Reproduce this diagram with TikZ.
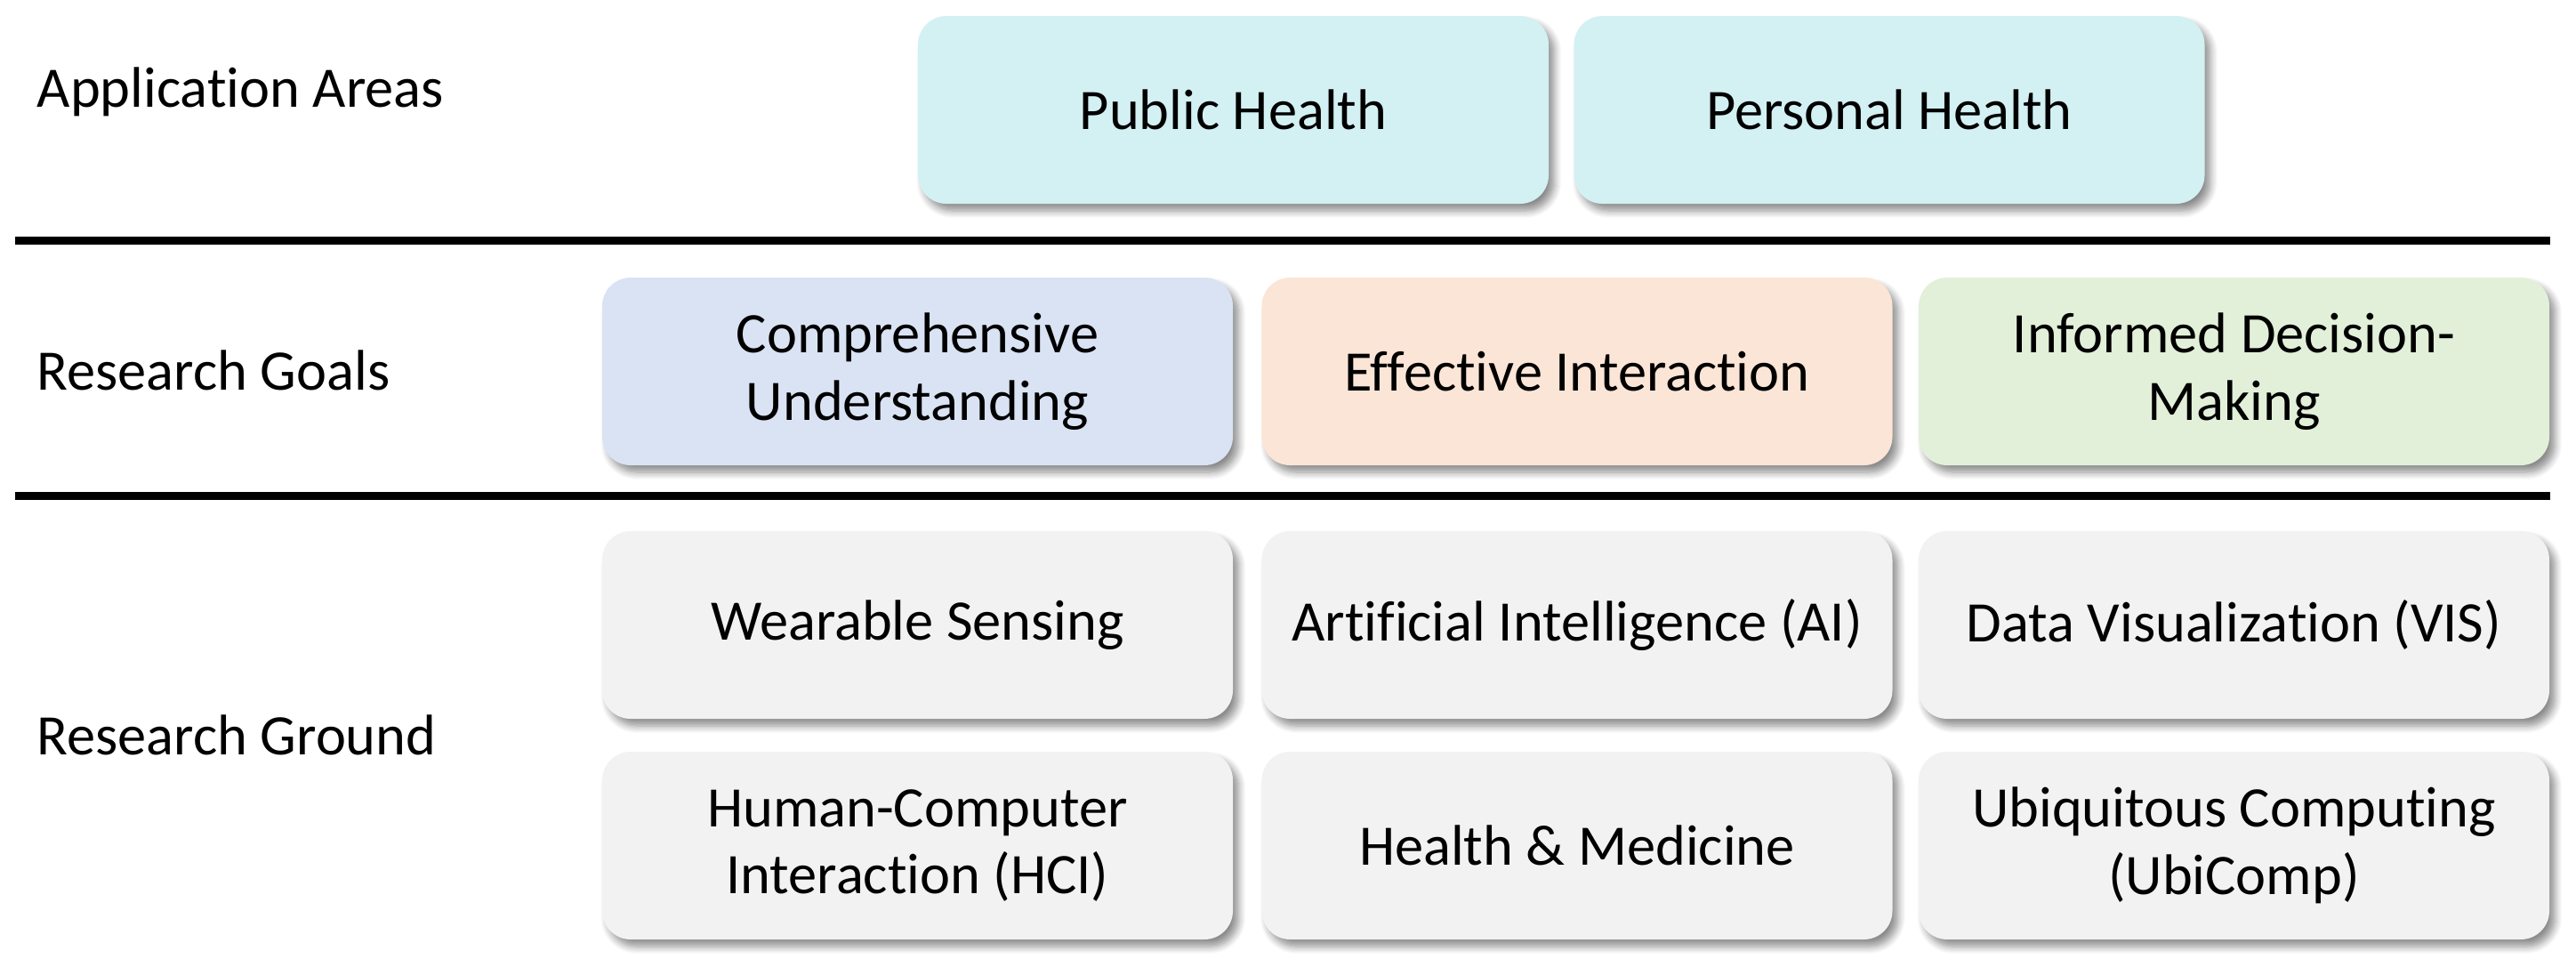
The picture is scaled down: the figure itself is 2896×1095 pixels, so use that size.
\documentclass[tikz,border=0pt]{standalone}
\usepackage{fontspec}
\setmainfont{Carlito}[Ligatures={NoCommon}]
\usetikzlibrary{shadows.blur}

\definecolor{areacyan}{HTML}{D3F0F3}
\definecolor{goalblue}{HTML}{DAE3F3}
\definecolor{goalorange}{HTML}{FBE5D6}
\definecolor{goalgreen}{HTML}{E2F0D9}
\definecolor{groundgray}{HTML}{F2F2F2}

\tikzset{
  box/.style={rounded corners=8pt, draw=none, inner sep=0pt,
    minimum width=177.25pt, minimum height=52.75pt,
    align=center, font=\fontsize{16.1}{18.9}\selectfont,
    blur shadow={shadow xshift=1.6pt, shadow yshift=-2pt,
      shadow blur radius=2pt, shadow blur steps=8, shadow opacity=45}},
  rowlabel/.style={anchor=west, inner sep=0pt, font=\fontsize{16.1}{18.9}\selectfont},
  divider/.style={line width=2.25pt, black}
}

\begin{document}
\begin{tikzpicture}[x=0.25pt, y=-0.25pt]
  \useasboundingbox (0,0) rectangle (2896,1095);

  % row labels
  \node[rowlabel] (lblareas)  at (41,103) {Application Areas};
  \node[rowlabel] (lblgoals)  at (41,416) {Research Goals};
  \node[rowlabel] (lblground) at (41,826) {Research Ground};

  % application areas
  \node[box, fill=areacyan] (pub) at (1386.5,123.5) {Public Health};
  \node[box, fill=areacyan] (per) at (2124,123.5) {Personal Health};

  % dividers
  \coordinate (d1a) at (17,270);
  \coordinate (d1b) at (2867,270);
  \coordinate (d2a) at (17,557.5);
  \coordinate (d2b) at (2867,557.5);
  \draw[divider] (d1a) -- (d1b);
  \draw[divider] (d2a) -- (d2b);

  % research goals
  \node[box, fill=goalblue]   (comp) at (1031.5,417.5) {Comprehensive\\Understanding};
  \node[box, fill=goalorange] (eff)  at (1773,417.5) {Effective Interaction};
  \node[box, fill=goalgreen]  (inf)  at (2511.5,417.5) {Informed Decision-\\Making};

  % research ground
  \node[box, fill=groundgray] (wear) at (1031.5,702.5) {Wearable Sensing};
  \node[box, fill=groundgray] (ai)   at (1773,702.5) {Artificial Intelligence (AI)};
  \node[box, fill=groundgray] (vis)  at (2511.5,702.5) {Data Visualization (VIS)};
  \node[box, fill=groundgray] (hci)  at (1031.5,950.5) {Human-Computer\\Interaction (HCI)};
  \node[box, fill=groundgray] (med)  at (1773,950.5) {Health \& Medicine};
  \node[box, fill=groundgray] (ubi)  at (2511.5,950.5) {Ubiquitous Computing\\(UbiComp)};
\end{tikzpicture}
\end{document}
